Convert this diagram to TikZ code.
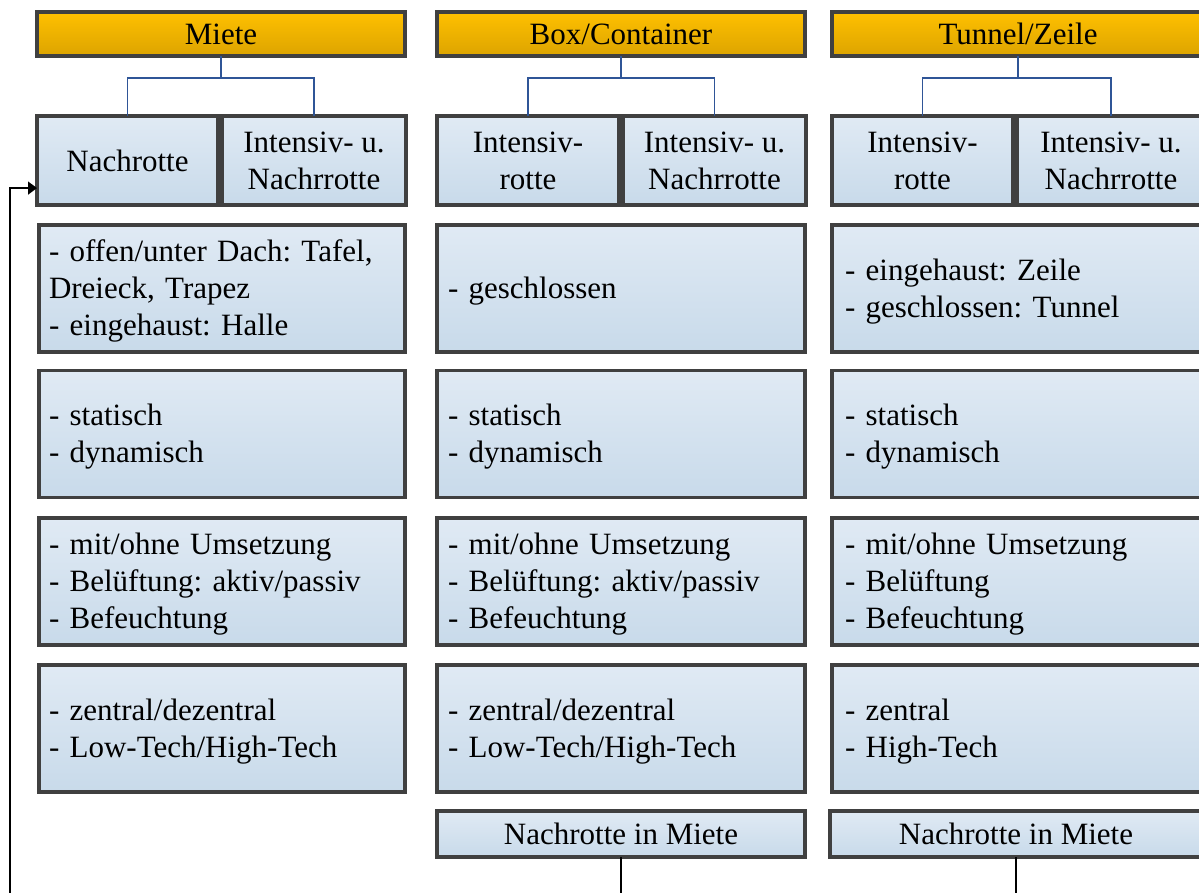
\documentclass[tikz,border=0pt]{standalone}
\usepackage{fontspec}
\setmainfont{Liberation Serif}
\usetikzlibrary{arrows.meta,calc}
\definecolor{headtop}{HTML}{FFC000}
\definecolor{headbot}{HTML}{DCA400}
\definecolor{boxtop}{HTML}{E0EAF4}
\definecolor{boxbot}{HTML}{C8DAEA}
\definecolor{frame}{HTML}{404040}
\definecolor{linkblue}{HTML}{2F5597}
\tikzset{
  base/.style={draw=frame, line width=3.5pt, inner sep=0pt, outer sep=0pt,
    font=\fontsize{31}{37}\selectfont\frenchspacing},
  headbox/.style={base, top color=headtop, bottom color=headbot,
    minimum height=44pt, align=center},
  subbox/.style={base, top color=boxtop, bottom color=boxbot,
    minimum height=89pt, align=center},
  % list boxes: fixed first-line height and last-line depth keep the text block evenly placed
  rowbox/.style={base, top color=boxtop, bottom color=boxbot,
    minimum height=127pt, text width=#1, align=left,
    execute at begin node={\rule{0pt}{27pt}},
    execute at end node={\rule[-7pt]{0pt}{7pt}}},
  rowbox/.default=346pt,
  footbox/.style={base, top color=boxtop, bottom color=boxbot,
    minimum height=46pt, align=center},
  tree/.style={draw=linkblue, line width=1.6pt},
  feed/.style={draw=black, line width=1.6pt}
}
\begin{document}
\begin{tikzpicture}[x=1pt,y=-1pt]
\useasboundingbox (0,0) rectangle (1199,893);
\clip (0,0) rectangle (1199,893);

% column headers
\node[headbox, minimum width=368pt] (h1) at (221,34) {Miete};
\node[headbox, minimum width=368pt] (h2) at (621,34) {Box/Container};
\node[headbox, minimum width=372pt] (h3) at (1018,34) {Tunnel/Zeile};

% process variants
\node[subbox, minimum width=181pt] (s11) at (127.5,160.5) {Nachrotte};
\node[subbox, minimum width=184pt] (s12) at (314,160.5) {Intensiv- u.\\Nachrrotte};
\node[subbox, minimum width=182pt] (s21) at (528,160.5) {Intensiv-\\rotte};
\node[subbox, minimum width=183pt] (s22) at (714.5,160.5) {Intensiv- u.\\Nachrrotte};
\node[subbox, minimum width=181pt] (s31) at (922.5,160.5) {Intensiv-\\rotte};
\node[subbox, minimum width=188pt] (s32) at (1111,160.5) {Intensiv- u.\\Nachrrotte};

% tree links
\draw[tree] (h1.south) -- ++(0,22) coordinate (j1) -| (s11.north);
\draw[tree] (j1) -| (s12.north);
\draw[tree] (h2.south) -- ++(0,22) coordinate (j2) -| (s21.north);
\draw[tree] (j2) -| (s22.north);
\draw[tree] (h3.south) -- ++(0,22) coordinate (j3) -| (s31.north);
\draw[tree] (j3) -| (s32.north);

% column 1
\node[rowbox, minimum width=366pt] (a1) at (222,288.5) {- offen/unter Dach: Tafel,\\Dreieck, Trapez\\- eingehaust: Halle};
\node[rowbox, minimum width=366pt] (a2) at (222,434) {- statisch\\- dynamisch};
\node[rowbox, minimum width=366pt] (a3) at (222,581.5) {- mit/ohne Umsetzung\\- Belüftung: aktiv/passiv\\- Befeuchtung};
\node[rowbox, minimum width=366pt] (a4) at (222,728.5) {- zentral/dezentral\\- Low-Tech/High-Tech};

% column 2
\node[rowbox, minimum width=368pt] (b1) at (621,288.5) {- geschlossen};
\node[rowbox, minimum width=368pt] (b2) at (621,434) {- statisch\\- dynamisch};
\node[rowbox, minimum width=368pt] (b3) at (621,581.5) {- mit/ohne Umsetzung\\- Belüftung: aktiv/passiv\\- Befeuchtung};
\node[rowbox, minimum width=368pt] (b4) at (621,728.5) {- zentral/dezentral\\- Low-Tech/High-Tech};
\node[footbox, minimum width=368pt] (b5) at (621,834) {Nachrotte in Miete};

% column 3
\node[rowbox, minimum width=372pt] (c1) at (1018,288.5) {- eingehaust: Zeile\\- geschlossen: Tunnel};
\node[rowbox, minimum width=372pt] (c2) at (1018,434) {- statisch\\- dynamisch};
\node[rowbox, minimum width=372pt] (c3) at (1018,581.5) {- mit/ohne Umsetzung\\- Belüftung\\- Befeuchtung};
\node[rowbox, minimum width=372pt] (c4) at (1018,728.5) {- zentral\\- High-Tech};
\node[footbox, minimum width=372pt] (c5) at (1016,834) {Nachrotte in Miete};

% feedback paths into the rental variant
\coordinate (out) at (0,900);
\draw[feed] (b5.south) -- (b5.south |- out);
\draw[feed] (c5.south) -- (c5.south |- out);
\coordinate (ret) at (10,900);
\draw[feed, -{Triangle[length=9pt,width=13pt]}] (ret) |- ($(s11.north west)!0.81!(s11.south west)$);
\end{tikzpicture}
\end{document}
